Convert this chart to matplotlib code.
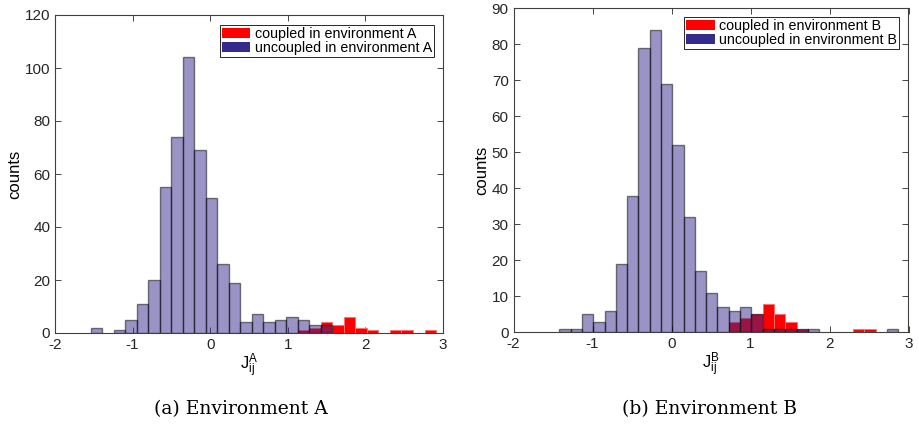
import numpy as np
import matplotlib
matplotlib.use("Agg")
import matplotlib.pyplot as plt
from matplotlib.patches import Patch

plt.rcParams['font.family'] = ['Liberation Sans', 'DejaVu Sans']
plt.rcParams['mathtext.default'] = 'regular'
plt.rcParams['axes.unicode_minus'] = False

# histogram counts (30 bins each)
n_bins = 30
range_a = (-1.54, 2.91)
range_b = (-1.42, 2.87)

uncoupled_a = [2, 0, 1, 5, 11, 20, 55, 74, 104, 69, 51, 26, 19, 4, 7,
               4, 5, 6, 5, 3, 3, 0, 0, 0, 0, 0, 0, 0, 0, 0]
coupled_a = [0, 0, 0, 0, 0, 0, 0, 0, 0, 0, 0, 0, 0, 0, 0,
             0, 0, 0, 1, 2, 4, 3, 6, 2, 1, 0, 1, 1, 0, 1]

uncoupled_b = [1, 1, 5, 3, 6, 19, 38, 79, 84, 69, 52, 32, 17, 11, 7,
               6, 7, 5, 1, 1, 1, 1, 1, 0, 0, 0, 0, 0, 0, 1]
coupled_b = [0, 0, 0, 0, 0, 0, 0, 0, 0, 0, 0, 0, 0, 0, 0,
             3, 4, 5, 8, 5, 3, 1, 0, 0, 0, 0, 1, 1, 0, 0]

red = '#ff0000'
navy = '#352b8d'


def draw_panel(ax, rng, coupled, uncoupled, env, ymax, ystep):
    edges = np.linspace(rng[0], rng[1], n_bins + 1)
    w = edges[1] - edges[0]
    left = edges[:-1]
    c = np.array(coupled)
    u = np.array(uncoupled)
    ax.bar(left[c > 0], c[c > 0], width=w, align='edge', color=red,
           edgecolor='#ff7070', linewidth=0.7, zorder=2)
    ax.bar(left[u > 0], u[u > 0], width=w, align='edge', color=navy, alpha=0.5,
           edgecolor='black', linewidth=1.0, zorder=3)
    ax.set_xlim(-2, 3)
    ax.set_ylim(0, ymax)
    ax.set_xticks(range(-2, 4))
    ax.set_yticks(range(0, ymax + 1, ystep))
    ax.tick_params(direction='in', top=True, right=True, length=4, width=0.6,
                   labelsize=11, colors='#262626')
    for s in ax.spines.values():
        s.set_color('#404040')
        s.set_linewidth(0.8)
    ax.set_ylabel('counts', fontsize=12, labelpad=2)
    ax.set_xlabel(r'$J_{ij}^{%s}$' % env, fontsize=12, labelpad=0)
    handles = [Patch(facecolor=red, edgecolor='none'),
               Patch(facecolor=navy, edgecolor='none')]
    return handles


fig = plt.figure(figsize=(9.2, 4.28), dpi=100)
ax1 = fig.add_axes([55 / 920, 1 - 333 / 428, 388 / 920, 318 / 428])
ax2 = fig.add_axes([513.5 / 920, 1 - 332.3 / 428, 395 / 920, 324 / 428])

h = draw_panel(ax1, range_a, coupled_a, uncoupled_a, 'A', 120, 20)
leg = ax1.legend(h, ['coupled in environment A', 'uncoupled in environment A'],
                 loc='upper right', bbox_to_anchor=(0.977, 0.969), borderaxespad=0,
                 fontsize=10.3, fancybox=False, framealpha=1, edgecolor='#262626',
                 handlelength=2.0, handleheight=0.7, handletextpad=0.3,
                 labelspacing=0.0, borderpad=0.15)
leg.get_frame().set_linewidth(0.7)

h = draw_panel(ax2, range_b, coupled_b, uncoupled_b, 'B', 90, 10)
leg = ax2.legend(h, ['coupled in environment B', 'uncoupled in environment B'],
                 loc='upper right', bbox_to_anchor=(0.976, 0.973), borderaxespad=0,
                 fontsize=10.3, fancybox=False, framealpha=1, edgecolor='#262626',
                 handlelength=2.0, handleheight=0.7, handletextpad=0.3,
                 labelspacing=0.0, borderpad=0.15)
leg.get_frame().set_linewidth(0.7)

fig.text(241 / 920, 1 - 409 / 428, '(a) Environment A', ha='center', va='center',
         fontsize=13.5, family='DejaVu Serif')
fig.text(710 / 920, 1 - 409 / 428, '(b) Environment B', ha='center', va='center',
         fontsize=13.5, family='DejaVu Serif')

fig.savefig('out.png', dpi=100)
